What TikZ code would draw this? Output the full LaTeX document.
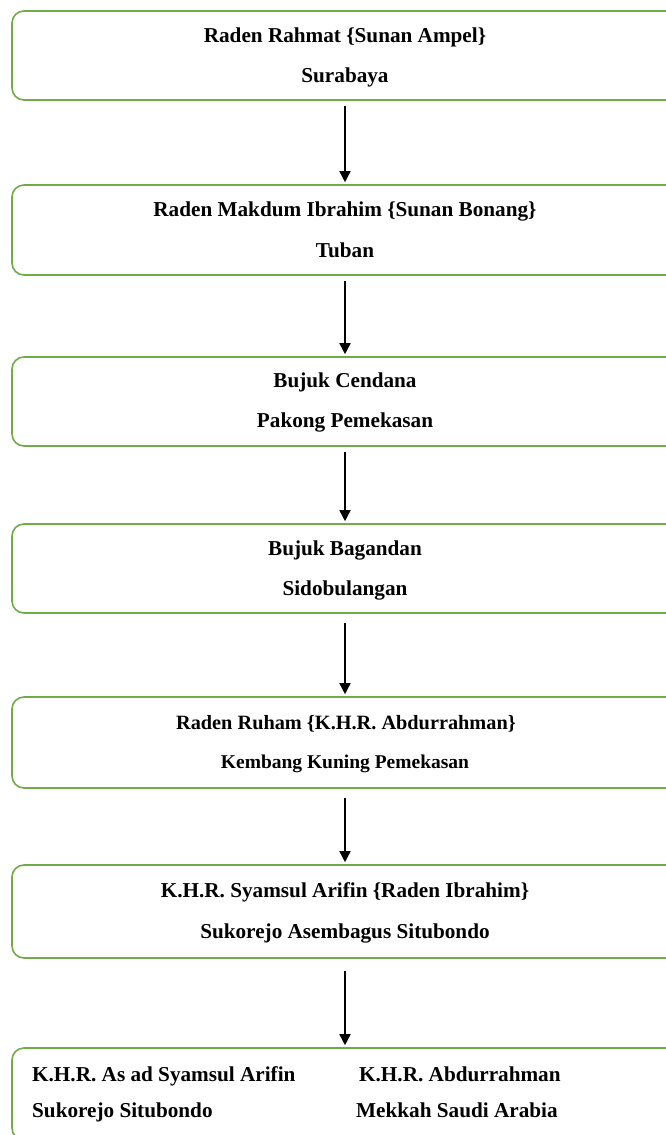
\documentclass[tikz,border=0pt]{standalone}
\usepackage{fontspec}
\setmainfont{Liberation Serif}
\usetikzlibrary{arrows.meta}
\definecolor{boxgreen}{RGB}{112,173,71}
\tikzset{
  famibox/.style={draw=boxgreen, line width=1.6pt, rounded corners=12pt, minimum width=666pt, inner sep=0pt},
  famitext/.style={font=\fontsize{21.2}{24}\selectfont\bfseries, anchor=base, inner sep=0pt},
  midtext/.style={font=\fontsize{20.3}{24}\selectfont\bfseries, anchor=base, inner sep=0pt},
  smalltext/.style={font=\fontsize{19.5}{23}\selectfont\bfseries, anchor=base, inner sep=0pt},
  linkarrow/.style={line width=1.6pt, -{Triangle[length=11pt,width=11pt]}, shorten <=5pt, shorten >=2pt}
}
\begin{document}
\begin{tikzpicture}[x=1pt,y=1pt]
\useasboundingbox[fill=white] (0,0) rectangle (665,-1135);
% boxes
\node[famibox, minimum height=89pt] (b1) at (345,-55.5) {};
\node[famibox, minimum height=90pt] (b2) at (345,-230) {};
\node[famibox, minimum height=89pt] (b3) at (345,-401.5) {};
\node[famibox, minimum height=89pt] (b4) at (345,-568.5) {};
\node[famibox, minimum height=91pt] (b5) at (345,-742.5) {};
\node[famibox, minimum height=93pt] (b6) at (345,-911.5) {};
\node[famibox, minimum height=92pt] (b7) at (345,-1094) {};
% texts
\node[famitext] (t1a) at (345,-42.5) {Raden Rahmat \{Sunan Ampel\}};
\node[famitext] (t1b) at (345,-82.5) {Surabaya};
\node[famitext] (t2a) at (345,-216.7) {Raden Makdum Ibrahim \{Sunan Bonang\}};
\node[famitext] (t2b) at (345,-257.7) {Tuban};
\node[famitext] (t3a) at (345,-387.7) {Bujuk Cendana};
\node[famitext] (t3b) at (345,-427.7) {Pakong Pemekasan};
\node[famitext] (t4a) at (345,-555) {Bujuk Bagandan};
\node[famitext] (t4b) at (345,-595) {Sidobulangan};
\node[midtext] (t5a) at (346,-729) {Raden Ruham \{K.H.R. Abdurrahman\}};
\node[smalltext] (t5b) at (345,-768.3) {Kembang Kuning Pemekasan};
\node[famitext] (t6a) at (345,-897.7) {K.H.R. Syamsul Arifin \{Raden Ibrahim\}};
\node[famitext] (t6b) at (345,-938.3) {Sukorejo Asembagus Situbondo};
\node[famitext, anchor=base west] (t7a) at (32,-1081.7) {K.H.R. As ad Syamsul Arifin};
\node[famitext, anchor=base west] (t7b) at (32,-1117) {Sukorejo Situbondo};
\node[famitext, anchor=base west] (t7c) at (359,-1081.7) {K.H.R. Abdurrahman};
\node[famitext, anchor=base west] (t7d) at (356,-1117) {Mekkah Saudi Arabia};
% arrows
\draw[linkarrow] (b1.south) -- (b2.north);
\draw[linkarrow] (b2.south) -- (b3.north);
\draw[linkarrow] (b3.south) -- (b4.north);
\draw[linkarrow] ([yshift=-4pt]b4.south) -- (b5.north);
\draw[linkarrow] ([yshift=-4pt]b5.south) -- (b6.north);
\draw[linkarrow] ([yshift=-7pt]b6.south) -- (b7.north);
\end{tikzpicture}
\end{document}
